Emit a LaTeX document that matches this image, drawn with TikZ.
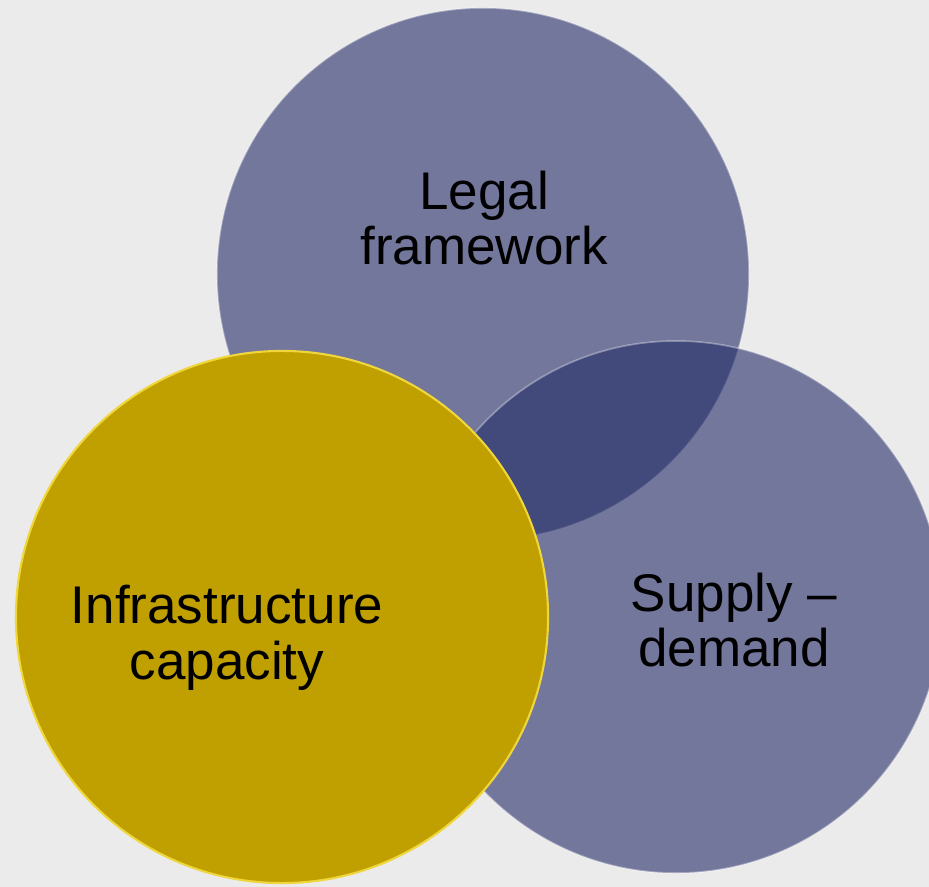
\documentclass[tikz,border=0pt]{standalone}
\usepackage{fontspec}
\setmainfont{Liberation Sans}
\usepackage{xcolor}
\usetikzlibrary{positioning}
\definecolor{bgGray}{RGB}{235,235,235}
\definecolor{ringBlue}{RGB}{34,43,103}
\definecolor{ringGold}{RGB}{192,160,0}
\definecolor{rimGold}{RGB}{238,214,60}

\begin{document}
\begin{tikzpicture}[x=0.025cm, y=-0.025cm,
  ring/.style={circle, minimum size=13.3cm, inner sep=0pt},
  blue ring/.style={ring, fill=ringBlue, fill opacity=0.6, draw=white, draw opacity=0.35, line width=1.2pt},
  gold ring/.style={ring, fill=ringGold, draw=rimGold, line width=1.5pt},
  label text/.style={align=center, text=black, font=\fontsize{37.7}{39.5}\selectfont}]
  % Background
  \useasboundingbox (0,0) rectangle (929,887);
  \clip (0,0) rectangle (929,887);
  \fill[bgGray] (0,0) rectangle (929,887);
  % Circles
  \node[blue ring] (legal) at (483,274) {};
  \node[blue ring] (supply) at (676,607) {};
  \node[gold ring] (infra) at (282,617) {};
  % Labels
  \node[label text] (legal text) at (484,218) {Legal\\framework};
  \node[label text] (supply text) at (734,620) {Supply –\\demand};
  \node[label text] (infra text) at (227,638) {Infrastructure\\capacity};
\end{tikzpicture}
\end{document}
